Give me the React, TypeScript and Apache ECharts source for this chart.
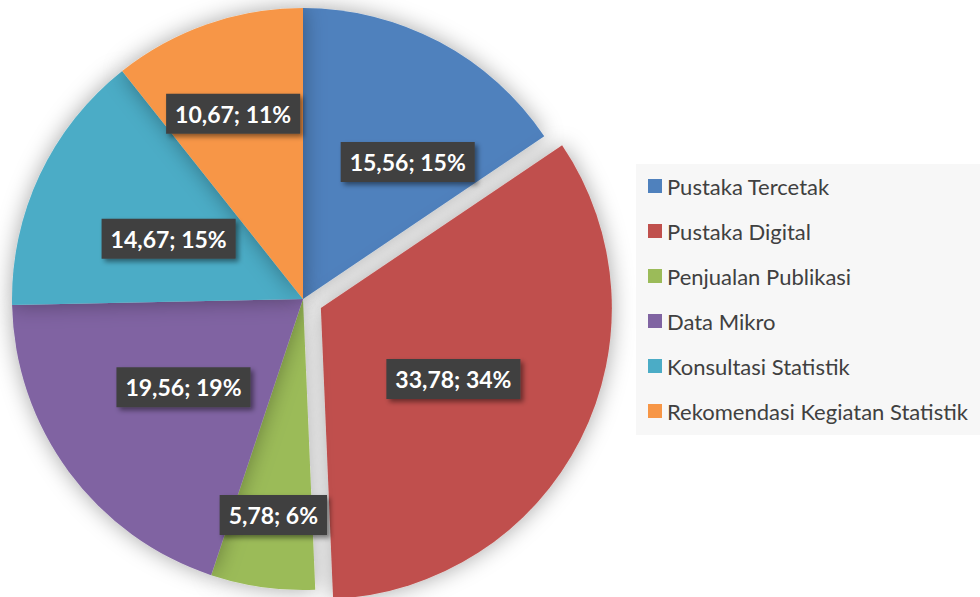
import React, { useEffect, useRef } from "react";
import * as echarts from "echarts";

const categories = [
  "Pustaka Tercetak",
  "Pustaka Digital",
  "Penjualan Publikasi",
  "Data Mikro",
  "Konsultasi Statistik",
  "Rekomendasi Kegiatan Statistik",
];
const values = [15.56, 33.78, 5.78, 19.56, 14.67, 10.67];
const colors = ["#4F81BD", "#C0504D", "#9BBB59", "#8064A2", "#4BACC6", "#F79646"];
const explodedIndex = 1;
// label nudges (style only), in px
const labelShift: number[][] = [
  [35, -6],
  [0, 4],
  [-9, 69],
  [0, 0],
  [0, 3],
  [-21, -45],
];

export default function App() {
  const ref = useRef<HTMLDivElement>(null);
  useEffect(() => {
    document.body.style.margin = "0";
    const chart = echarts.init(ref.current!, undefined, { renderer: "svg" });
    chart.setOption({
      animation: false,
      backgroundColor: "#ffffff",
      graphic: [
        {
          type: "rect",
          z: 0,
          shape: { x: 636, y: 164, width: 344, height: 271 },
          style: { fill: "#f7f7f7" },
        },
      ],
      legend: {
        orient: "vertical",
        left: 643,
        top: 170,
        z: 5,
        icon: "rect",
        itemWidth: 14,
        itemHeight: 14,
        itemGap: 23,
        selectedMode: false,
        textStyle: {
          fontFamily: "Lato",
          fontSize: 22,
          lineHeight: 20,
          color: "#404040",
        },
        data: categories,
      },
      series: [
        {
          type: "pie",
          center: [303, 299],
          radius: 291,
          startAngle: 90,
          clockwise: true,
          selectedMode: "single",
          selectedOffset: 20,
          percentPrecision: 0,
          emphasis: { disabled: true },
          itemStyle: {
            shadowBlur: 22,
            shadowColor: "rgba(0,0,0,0.35)",
          },
          label: {
            position: "inside",
            formatter: (p: any) =>
              `${Number(p.value).toFixed(2).replace(".", ",")}; ${p.percent}%`,
            color: "#ffffff",
            fontFamily: "Lato",
            fontWeight: "bold",
            fontSize: 23,
            lineHeight: 24,
            backgroundColor: "#404040",
            padding: [8, 9],
            shadowColor: "rgba(0,0,0,0.45)",
            shadowBlur: 5,
            shadowOffsetX: 3,
            shadowOffsetY: 3,
          },
          labelLine: { show: false },
          labelLayout: (params: any) => ({
            dx: labelShift[params.dataIndex][0],
            dy: labelShift[params.dataIndex][1],
          }),
          data: categories.map((name, i) => ({
            name,
            value: values[i],
            selected: i === explodedIndex,
            itemStyle: { color: colors[i] },
          })),
        },
      ],
    });
    return () => chart.dispose();
  }, []);
  return (
    <div
      ref={ref}
      style={{ position: "absolute", left: 0, top: 0, width: 980, height: 597 }}
    />
  );
}
